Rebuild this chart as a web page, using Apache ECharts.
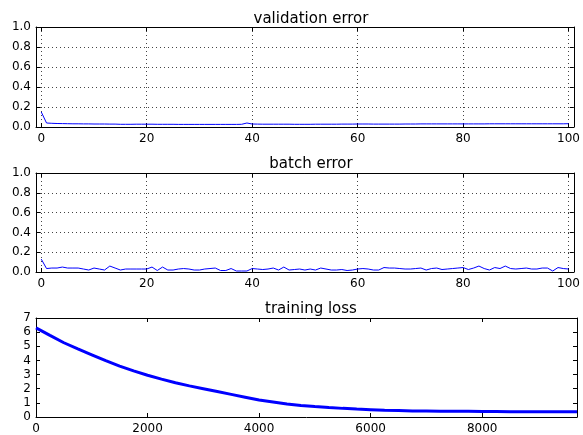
<!DOCTYPE html>
<html>
<head>
<meta charset="utf-8">
<script src="https://cdn.jsdelivr.net/npm/echarts@6/dist/echarts.min.js"></script>
<style>
  html, body { margin: 0; padding: 0; background: #fff; }
  #chart { width: 583px; height: 435px; }
</style>
</head>
<body>
<div id="chart"></div>
<script>
// tick labels
const epochTicks = [0, 20, 40, 60, 80, 100]
const stepTicks = [0, 2000, 4000, 6000, 8000]

// per-epoch errors, epochs 0..100
const validationError = [
  0.15, 0.04, 0.037, 0.035, 0.034, 0.033, 0.032, 0.032, 0.031, 0.031,
  0.030, 0.030, 0.030, 0.029, 0.029, 0.027, 0.027, 0.027, 0.028, 0.028,
  0.028, 0.028, 0.027, 0.027, 0.027, 0.027, 0.026, 0.026, 0.026, 0.026,
  0.026, 0.026, 0.026, 0.026, 0.026, 0.026, 0.026, 0.026, 0.027, 0.040,
  0.030, 0.029, 0.028, 0.028, 0.028, 0.028, 0.028, 0.028, 0.027, 0.027,
  0.027, 0.027, 0.028, 0.028, 0.028, 0.028, 0.028, 0.029, 0.029, 0.029,
  0.030, 0.030, 0.030, 0.029, 0.029, 0.029, 0.029, 0.029, 0.029, 0.030,
  0.030, 0.030, 0.031, 0.031, 0.031, 0.031, 0.031, 0.031, 0.031, 0.031,
  0.031, 0.031, 0.031, 0.031, 0.031, 0.032, 0.032, 0.032, 0.032, 0.032,
  0.032, 0.032, 0.032, 0.032, 0.032, 0.032, 0.032, 0.032, 0.032, 0.032,
  0.033,
]
const batchError = [
  0.13, 0.035, 0.04, 0.04, 0.05, 0.04, 0.04, 0.04, 0.03, 0.02,
  0.04, 0.03, 0.02, 0.06, 0.04, 0.02, 0.03, 0.03, 0.03, 0.03,
  0.03, 0.05, 0.015, 0.05, 0.02, 0.02, 0.03, 0.035, 0.03, 0.02,
  0.02, 0.03, 0.035, 0.04, 0.015, 0.015, 0.035, 0.01, 0.01, 0.01,
  0.035, 0.03, 0.025, 0.03, 0.04, 0.02, 0.05, 0.02, 0.025, 0.03,
  0.02, 0.03, 0.02, 0.04, 0.03, 0.02, 0.02, 0.025, 0.015, 0.02,
  0.03, 0.035, 0.03, 0.02, 0.02, 0.045, 0.04, 0.04, 0.035, 0.03,
  0.03, 0.035, 0.04, 0.02, 0.035, 0.04, 0.025, 0.03, 0.035, 0.04,
  0.045, 0.025, 0.04, 0.06, 0.035, 0.02, 0.045, 0.035, 0.06, 0.035,
  0.03, 0.035, 0.04, 0.03, 0.03, 0.04, 0.04, 0.01, 0.045, 0.035,
  0.03,
]

// training loss, sampled along the steps axis
const lossSteps = [
  0, 250, 500, 750, 1000, 1250, 1500, 1750, 2000, 2250,
  2500, 2750, 3000, 3250, 3500, 3750, 4000, 4250, 4500, 4750,
  5000, 5250, 5500, 5750, 6000, 6250, 6500, 6750, 7000, 7250,
  7500, 7750, 8000, 8250, 8500, 8750, 9000, 9250, 9500, 9700,
]
const trainingLoss = [
  6.30, 5.77, 5.25, 4.82, 4.40, 3.98, 3.60, 3.26, 2.95, 2.68,
  2.42, 2.20, 2.00, 1.80, 1.60, 1.40, 1.20, 1.06, 0.92, 0.82,
  0.74, 0.67, 0.61, 0.56, 0.52, 0.48, 0.46, 0.43, 0.42, 0.41,
  0.40, 0.40, 0.39, 0.39, 0.38, 0.38, 0.38, 0.38, 0.38, 0.37,
]

const font = 'DejaVu Sans'
const frame = { show: true, onZero: false, lineStyle: { color: '#000', width: 1 } }
const tick = { show: true, inside: true, length: 4, lineStyle: { color: '#000' } }
const dotted = { show: true, lineStyle: { color: '#444', type: [1, 3], width: 1 } }

function axisPair(dim, gridIndex, opts, grid) {
  const main = Object.assign({
    type: 'value',
    gridIndex,
    position: dim === 'x' ? 'bottom' : 'left',
    axisLine: frame,
    axisTick: tick,
    splitLine: grid ? dotted : { show: false },
    axisLabel: {
      color: '#000',
      fontFamily: font,
      fontSize: 12,
      margin: dim === 'x' ? 6 : 5,
      formatter: (v) => String(v),
    },
  }, opts.main)
  if (opts.label) Object.assign(main.axisLabel, opts.label)
  if (opts.ticks) main.axisTick = Object.assign({}, tick, { customValues: opts.ticks })
  const mirror = Object.assign({}, main, {
    position: dim === 'x' ? 'top' : 'right',
    axisLabel: { show: false },
    splitLine: { show: false },
  })
  return [main, mirror]
}

const epochX = {
  main: { min: -1, max: 101, splitNumber: 5 },
  label: { customValues: epochTicks },
  ticks: epochTicks,
}
const errorY = {
  main: { min: 0, max: 1, interval: 0.2 },
  label: { formatter: (v) => v.toFixed(1) },
}

const xAxis = [
  ...axisPair('x', 0, epochX, true),
  ...axisPair('x', 1, epochX, true),
  ...axisPair('x', 2, {
    main: { min: 0, max: 9700, interval: 2000 },
    label: { customValues: stepTicks },
    ticks: stepTicks,
  }, false),
]
const yAxis = [
  ...axisPair('y', 0, errorY, true),
  ...axisPair('y', 1, errorY, true),
  ...axisPair('y', 2, { main: { min: 0, max: 7, interval: 1 } }, false),
]

const titleStyle = { color: '#000', fontFamily: font, fontSize: 15, fontWeight: 'normal' }

const chart = echarts.init(document.getElementById('chart'), null, { renderer: 'canvas' })
chart.setOption({
  animation: false,
  backgroundColor: '#fff',
  title: [
    { text: 'validation error', left: 306, top: 7, textAlign: 'center', textStyle: titleStyle },
    { text: 'batch error', left: 306, top: 152, textAlign: 'center', textStyle: titleStyle },
    { text: 'training loss', left: 306, top: 297, textAlign: 'center', textStyle: titleStyle },
  ],
  grid: [
    { left: 36, right: 6, top: 27, height: 100 },
    { left: 36, right: 6, top: 173, height: 99 },
    { left: 36, right: 6, top: 318, height: 100 },
  ],
  xAxis,
  yAxis,
  series: [
    {
      type: 'line',
      xAxisIndex: 0,
      yAxisIndex: 0,
      showSymbol: false,
      lineStyle: { color: '#0000ff', width: 1 },
      data: validationError.map((v, i) => [i, v]),
    },
    {
      type: 'line',
      xAxisIndex: 2,
      yAxisIndex: 2,
      showSymbol: false,
      lineStyle: { color: '#0000ff', width: 1 },
      data: batchError.map((v, i) => [i, v]),
    },
    {
      type: 'line',
      xAxisIndex: 4,
      yAxisIndex: 4,
      showSymbol: false,
      lineStyle: { color: '#0000ff', width: 3 },
      data: lossSteps.map((s, i) => [s, trainingLoss[i]]),
    },
  ],
})
</script>
</body>
</html>
